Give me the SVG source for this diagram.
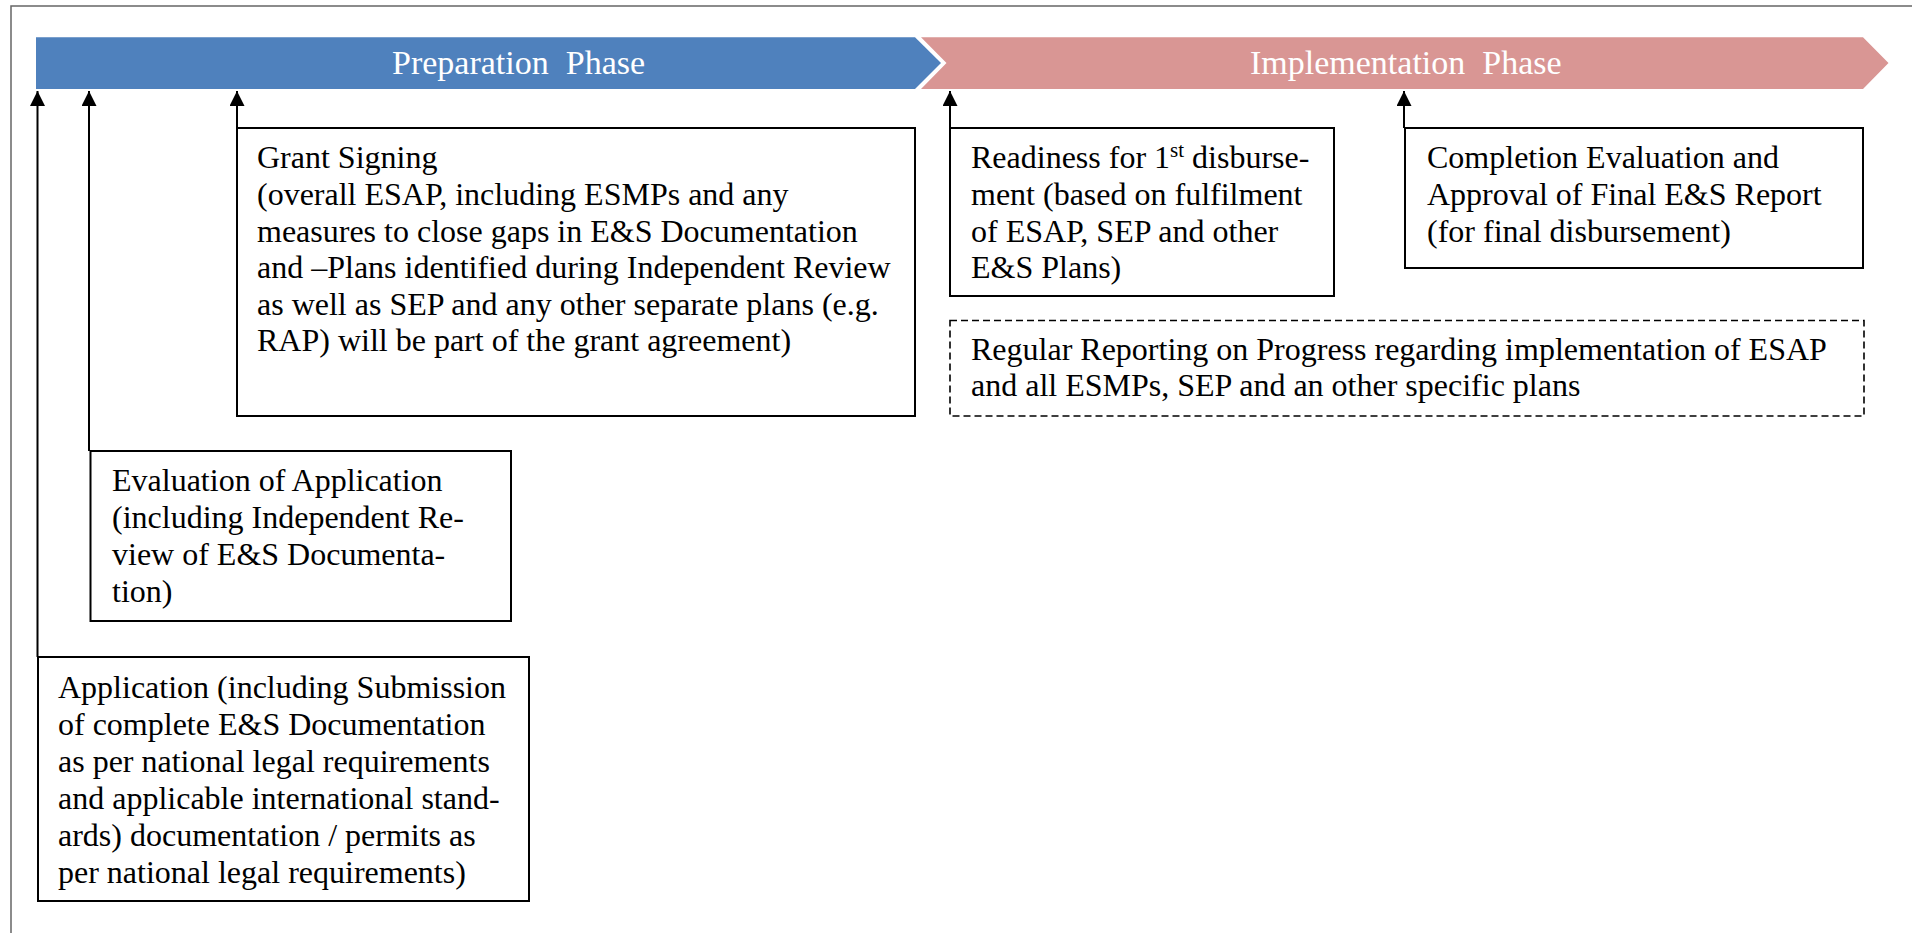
<svg xmlns="http://www.w3.org/2000/svg" width="1912" height="933" viewBox="0 0 1912 933">
<style>
.t{font-family:"Liberation Serif","Times New Roman",serif;font-size:32px;fill:#000}
.h{font-family:"Liberation Serif","Times New Roman",serif;font-size:34px;fill:#fff;word-spacing:8.5px}
.box{fill:#fff;stroke:#000;stroke-width:2}
.dash{fill:none;stroke:#000;stroke-width:1.6;stroke-dasharray:7 4}
.con{fill:none;stroke:#000;stroke-width:2;marker-end:url(#ah)}
</style>
<defs>
<marker id="ah" markerUnits="userSpaceOnUse" viewBox="0 -7.5 15 15" refX="15" refY="0" markerWidth="15" markerHeight="15" orient="auto">
<path d="M0,-7.5 L15,0 L0,7.5 z" fill="#000"/>
</marker>
</defs>
<rect width="1912" height="933" fill="#fff"/>
<g id="frame" fill="none" stroke="#666" stroke-width="1.5">
<path d="M11,933 L11,6 L1912,6"/>
</g>
<g id="phase-preparation">
<path d="M36,37.3 L915,37.3 L941,63 L915,89 L36,89 z" fill="#4F81BD"/>
<text class="h" x="392" y="74">Preparation Phase</text>
</g>
<g id="phase-implementation">
<path d="M921,37.3 L1863,37.3 L1888.5,63 L1863,89 L921,89 L946.5,63 z" fill="#D99694"/>
<text class="h" x="1250" y="74">Implementation Phase</text>
</g>
<g id="connectors">
<path class="con" d="M37.5,657 L37.5,91"/>
<path class="con" d="M89,451 L89,91"/>
<path class="con" d="M237,128 L237,91"/>
<path class="con" d="M950,128 L950,91"/>
<path class="con" d="M1404,128 L1404,91"/>
</g>
<g id="grant-signing">
<rect class="box" x="237" y="128" width="678" height="288"/>
<text class="t" x="257" y="168">Grant Signing</text>
<text class="t" x="257" y="205">(overall ESAP, including ESMPs and any</text>
<text class="t" x="257" y="241.5">measures to close gaps in E&amp;S Documentation</text>
<text class="t" x="257" y="278">and –Plans identified during Independent Review</text>
<text class="t" x="257" y="314.5">as well as SEP and any other separate plans (e.g.</text>
<text class="t" x="257" y="351">RAP) will be part of the grant agreement)</text>
</g>
<g id="evaluation">
<rect class="box" x="90.5" y="451" width="420.5" height="170"/>
<text class="t" x="112" y="491">Evaluation of Application</text>
<text class="t" x="112" y="528">(including Independent Re-</text>
<text class="t" x="112" y="565">view of E&amp;S Documenta-</text>
<text class="t" x="112" y="601.5">tion)</text>
</g>
<g id="application">
<rect class="box" x="38" y="657" width="491" height="244"/>
<text class="t" x="58" y="697.5">Application (including Submission</text>
<text class="t" x="58" y="734.5">of complete E&amp;S Documentation</text>
<text class="t" x="58" y="771.5">as per national legal requirements</text>
<text class="t" x="58" y="808.5">and applicable international stand-</text>
<text class="t" x="58" y="845.5">ards) documentation / permits as</text>
<text class="t" x="58" y="882.5">per national legal requirements)</text>
</g>
<g id="readiness">
<rect class="box" x="950" y="128" width="384" height="168"/>
<text class="t" x="971" y="168">Readiness for 1<tspan font-size="21" dy="-11">st</tspan><tspan dy="11"> disburse-</tspan></text>
<text class="t" x="971" y="205">ment (based on fulfilment</text>
<text class="t" x="971" y="241.5">of ESAP, SEP and other</text>
<text class="t" x="971" y="278">E&amp;S Plans)</text>
</g>
<g id="completion">
<rect class="box" x="1405" y="128" width="458" height="140"/>
<text class="t" x="1427" y="168">Completion Evaluation and</text>
<text class="t" x="1427" y="205">Approval of Final E&amp;S Report</text>
<text class="t" x="1427" y="241.5">(for final disbursement)</text>
</g>
<g id="regular-reporting">
<rect class="dash" x="950" y="320.5" width="914" height="95.5"/>
<text class="t" x="971" y="359.5">Regular Reporting on Progress regarding implementation of ESAP</text>
<text class="t" x="971" y="396">and all ESMPs, SEP and an other specific plans</text>
</g>
</svg>
